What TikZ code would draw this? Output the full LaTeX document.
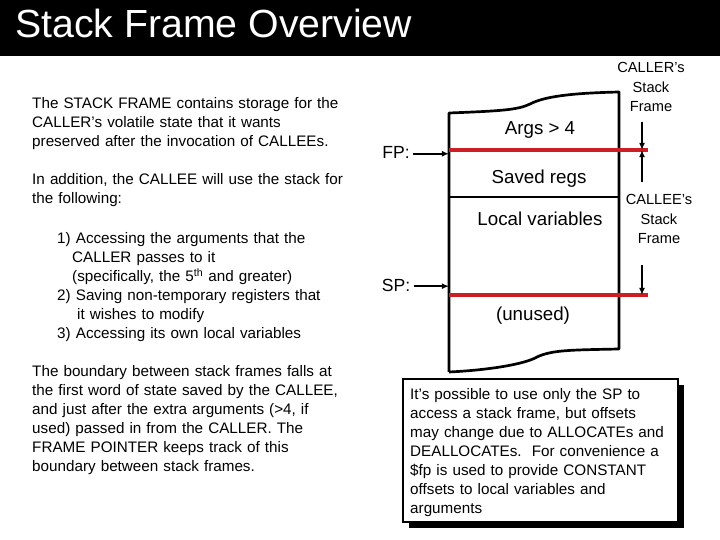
\documentclass[tikz,border=0pt]{standalone}
\usepackage{fontspec}
\setmainfont{Liberation Sans}
\usetikzlibrary{arrows.meta,positioning,calc}
\definecolor{ptrred}{RGB}{205,30,36}

\begin{document}
\begin{tikzpicture}[x=0.03cm,y=-0.03cm,
    txt/.style={anchor=base west,inner sep=0pt,align=left,text width=11cm,
      font=\fontsize{13}{16.2}\selectfont},
    cell/.style={inner sep=0pt,font=\fontsize{16}{19}\selectfont},
    side/.style={anchor=base,inner sep=0pt,align=center,text width=2.4cm,
      font=\fontsize{12.5}{16.6}\selectfont},
    reg/.style={inner sep=0pt,font=\fontsize{15}{18}\selectfont},
    ptr/.style={line width=1.6pt,-{Latex[length=6pt,width=5pt]}},
    bound/.style={ptrred,line width=3.4pt}]
  \useasboundingbox (0,0) rectangle (720,540);
  % title bar
  \fill[black] (0,0) rectangle (720,56);
  \node[anchor=base west,inner sep=0pt,white,font=\fontsize{33.5}{38}\selectfont] (title) at (15,38) {Stack Frame Overview};
  % explanation on the left
  \node[txt] (intro) at (32,109) {The STACK FRAME contains storage for the\\CALLER’s volatile state that it wants\\preserved after the invocation of CALLEEs.};
  \node[txt] (uses) at (32,185) {In addition, the CALLEE will use the stack for\\the following:};
  \node[txt] (list) at (57,244) {1) Accessing the arguments that the\\
    \hspace*{0.45cm}CALLER passes to it\\
    \hspace*{0.45cm}(specifically, the 5\textsuperscript{th} and greater)\\
    2) Saving non-temporary registers that\\
    \hspace*{0.6cm}it wishes to modify\\
    3) Accessing its own local variables};
  \node[txt] (boundary) at (32,377) {The boundary between stack frames falls at\\the first word of state saved by the CALLEE,\\and just after the extra arguments (>4, if\\used) passed in from the CALLER. The\\FRAME POINTER keeps track of this\\boundary between stack frames.};
  % the stack
  \coordinate (tl) at (449,113);
  \coordinate (tr) at (619,92);
  \coordinate (bl) at (449,372);
  \coordinate (br) at (619,349);
  \draw[line width=2.3pt,line join=round] (bl) -- (tl)
    .. controls (500,111) and (518,110) .. (530,104)
    .. controls (545,96) and (575,93) .. (tr) -- (br)
    .. controls (570,350) and (552,350) .. (537,357)
    .. controls (525,364) and (490,370) .. (bl);
  \draw[line width=2.3pt] (449,197) -- (619,197);
  \coordinate (fpL) at (449,150);
  \coordinate (fpR) at (648,150);
  \coordinate (spL) at (449,295);
  \coordinate (spR) at (648,295);
  \draw[bound] (fpL) -- (fpR);
  \draw[bound] (spL) -- (spR);
  \node[cell] (args) at (540,130) {Args > 4};
  \node[cell] (saved) at (539,179) {Saved regs};
  \node[cell] (locals) at (540,219) {Local variables};
  \node[cell] (unused) at (533,316) {(unused)};
  % pointers
  \node[reg] (fp) at (396,152) {FP:};
  \node[reg] (sp) at (396,285) {SP:};
  \draw[ptr] ([xshift=3pt,yshift=-1.5pt]fp.east) -- ([yshift=-1.5pt]fp.east -| fpL);
  \draw[ptr] ([xshift=3pt,yshift=-1pt]sp.east) -- ([yshift=-1pt]sp.east -| spL);
  % frame extents
  \node[side] (caller) at (651,73) {CALLER’s\\Stack\\Frame};
  \node[side] (callee) at (659,205) {CALLEE’s\\Stack\\Frame};
  \coordinate (callerTop) at (642,122);
  \coordinate (calleeTop) at (642,182);
  \coordinate (spTop) at (642,265);
  \draw[ptr] (callerTop) -- (callerTop |- fpR);
  \draw[ptr] (calleeTop) -- (calleeTop |- fpR);
  \draw[ptr] (spTop) -- (spTop |- spR);
  % note
  \fill[black] (409,385) rectangle (684,528);
  \draw[fill=white,line width=1.2pt] (403,379) rectangle (678,522);
  \node[txt] (note) at (410,400) {It’s possible to use only the SP to\\access a stack frame, but offsets\\may change due to ALLOCATEs and\\DEALLOCATEs.\ \ For convenience a\\\$fp is used to provide CONSTANT\\offsets to local variables and\\arguments};
\end{tikzpicture}
\end{document}
